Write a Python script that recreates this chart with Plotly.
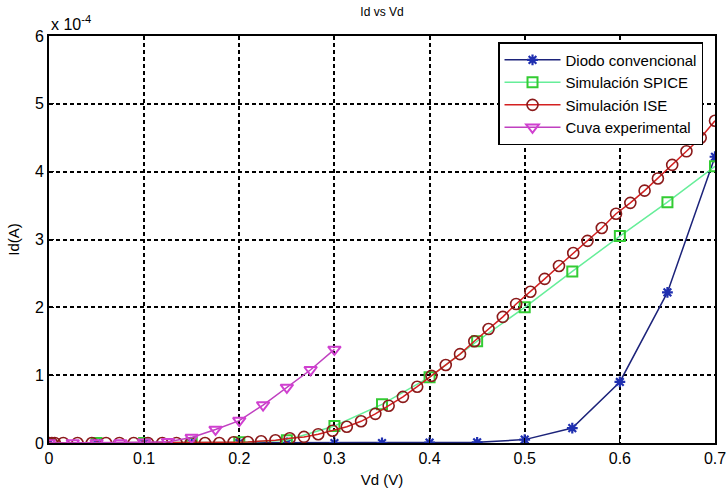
import plotly.graph_objects as go

# Data (current in units of 1e-4 A)
vd_diodo = [0, 0.05, 0.1, 0.15, 0.2, 0.25, 0.3, 0.35, 0.4, 0.45, 0.5, 0.55, 0.6, 0.65, 0.7]
id_diodo = [0, 0, 0, 0, 0, 0, 0, 0, 0.005, 0.01, 0.05, 0.22, 0.9, 2.22, 4.22]

vd_spice = [0, 0.05, 0.1, 0.15, 0.2, 0.25, 0.3, 0.35, 0.4, 0.45, 0.5, 0.55, 0.6, 0.65, 0.7]
id_spice = [0, 0, 0, 0, 0.01, 0.04, 0.25, 0.57, 0.97, 1.5, 2.0, 2.53, 3.05, 3.55, 4.08]

vd_ise = [0, 0.003, 0.006, 0.015, 0.030, 0.045, 0.060, 0.074, 0.089, 0.104, 0.119, 0.134, 0.149,
          0.164, 0.179, 0.194, 0.209, 0.223, 0.238, 0.253, 0.268, 0.283, 0.298, 0.313,
          0.328, 0.343, 0.357, 0.372, 0.387, 0.402, 0.417, 0.432, 0.447, 0.462, 0.477,
          0.491, 0.506, 0.521, 0.536, 0.551, 0.566, 0.581, 0.596, 0.611, 0.626, 0.640,
          0.655, 0.670, 0.685, 0.700]
id_ise = [0, 0, 0, 0, 0, 0, 0, 0, 0, 0, 0, 0, 0,
          0, 0, 0.01, 0.015, 0.025, 0.04, 0.07, 0.09, 0.13, 0.18, 0.24,
          0.32, 0.43, 0.55, 0.68, 0.83, 0.99, 1.15, 1.31, 1.5, 1.68, 1.86,
          2.05, 2.23, 2.42, 2.61, 2.8, 2.98, 3.17, 3.38, 3.54, 3.72, 3.9,
          4.1, 4.3, 4.5, 4.75]

vd_exp = [0, 0.025, 0.05, 0.075, 0.1, 0.125, 0.15, 0.175, 0.2, 0.225, 0.25, 0.275, 0.3]
id_exp = [0, 0, 0, 0, 0.01, 0.02, 0.08, 0.2, 0.33, 0.56, 0.82, 1.08, 1.38]

x_ticks = [0, 0.1, 0.2, 0.3, 0.4, 0.5, 0.6, 0.7]
x_ticktext = ["0", "0.1", "0.2", "0.3", "0.4", "0.5", "0.6", "0.7"]
y_ticks = [0, 1, 2, 3, 4, 5, 6]

FONT = "Liberation Sans Narrow, Liberation Sans, Arial, sans-serif"

fig = go.Figure()
fig.add_trace(go.Scatter(
    x=vd_diodo, y=id_diodo, name="Diodo convencional", mode="lines+markers",
    line=dict(color="#1c237a", width=1.5),
    marker=dict(symbol="asterisk-open", size=9, color="#1f2fb0",
                line=dict(color="#1f2fb0", width=2.2))))
fig.add_trace(go.Scatter(
    x=vd_spice, y=id_spice, name="Simulación SPICE", mode="lines+markers",
    line=dict(color="#66ee99", width=1.5),
    marker=dict(symbol="square-open", size=10, color="#33cc33",
                line=dict(color="#33cc33", width=2))))
fig.add_trace(go.Scatter(
    x=vd_ise, y=id_ise, name="Simulación ISE", mode="lines+markers",
    line=dict(color="#d42020", width=1.5),
    marker=dict(symbol="circle-open", size=11, color="#8b1a1a",
                line=dict(color="#8b1a1a", width=1.6))))
fig.add_trace(go.Scatter(
    x=vd_exp, y=id_exp, name="Cuva experimental", mode="lines+markers",
    line=dict(color="#c040c0", width=1.5),
    marker=dict(symbol="triangle-down-open", size=11, color="#d040d0",
                line=dict(color="#d040d0", width=2))))

grid = dict(showgrid=True, gridcolor="black", gridwidth=1.8, griddash="4px,3px")
fig.update_xaxes(range=[0, 0.7], tickvals=x_ticks, ticktext=x_ticktext,
                 showline=True, linecolor="black", linewidth=2, mirror=True,
                 ticks="inside", ticklen=5, tickcolor="black",
                 zeroline=False, automargin=False,
                 title=dict(text="Vd (V)", font=dict(size=15, color="black"), standoff=8),
                 tickfont=dict(size=16, color="black"), **grid)
fig.update_yaxes(range=[0, 6], tickvals=y_ticks,
                 showline=True, linecolor="black", linewidth=2, mirror=True,
                 ticks="inside", ticklen=5, tickcolor="black",
                 zeroline=False, automargin=False,
                 title=dict(text="Id(A)", font=dict(size=15, color="black"), standoff=12),
                 tickfont=dict(size=16, color="black"), **grid)

fig.add_annotation(text="x 10<sup>-4</sup>", xref="paper", yref="paper", x=0, y=1,
                   xanchor="left", yanchor="bottom", showarrow=False, yshift=1,
                   font=dict(size=16, color="black", family=FONT))

fig.update_layout(
    width=728, height=490,
    margin=dict(l=49, r=13, t=36, b=47),
    paper_bgcolor="white", plot_bgcolor="white",
    font=dict(family=FONT, color="black"),
    title=dict(text="Id vs Vd", x=382 / 728, xanchor="center",
               y=1 - 12 / 490, yanchor="middle", font=dict(size=12, color="black")),
    legend=dict(x=0.982, y=0.985, xanchor="right", yanchor="top",
                bgcolor="white", bordercolor="black", borderwidth=1.5,
                font=dict(size=15, color="black"), tracegroupgap=0, itemwidth=56),
    showlegend=True,
)

fig.write_html("out.html")
